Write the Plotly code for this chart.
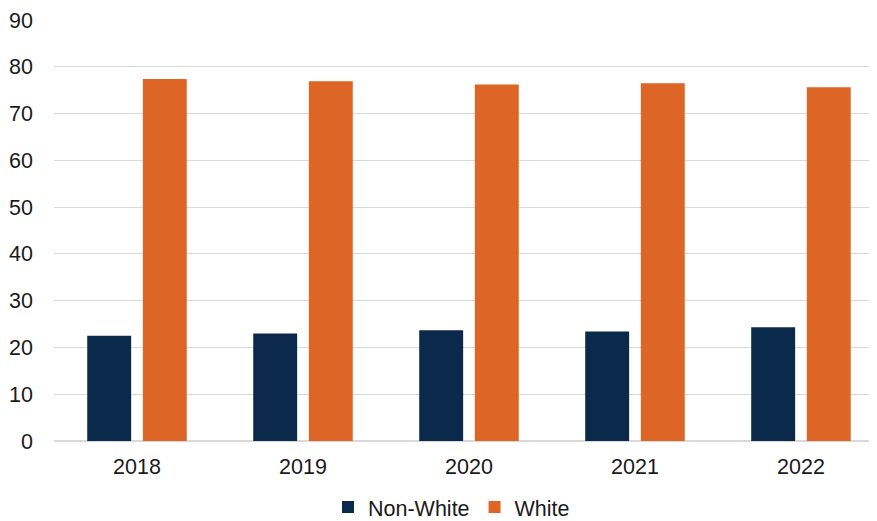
import plotly.graph_objects as go

years = ["2018", "2019", "2020", "2021", "2022"]
non_white = [22.5, 23.0, 23.7, 23.4, 24.3]
white = [77.4, 76.9, 76.2, 76.5, 75.6]

navy = "#0b2a4b"
orange = "#dd6627"
font_family = "Liberation Sans, Arial, sans-serif"

fig = go.Figure()
fig.add_trace(go.Bar(name="Non-White", x=years, y=non_white, marker_color=navy,
                     marker_line_width=0))
fig.add_trace(go.Bar(name="White", x=years, y=white, marker_color=orange,
                     marker_line_width=0))

# page body has an 8px default margin, so the figure is sized to fit within it
fig.update_layout(
    width=869, height=513,
    margin=dict(l=46, r=0, t=12, b=80),
    paper_bgcolor="white", plot_bgcolor="white",
    barmode="group", bargap=0.33, bargroupgap=0.21,
    font=dict(family=font_family, size=21.5, color="#1a1a1a"),
    showlegend=True,
    legend=dict(orientation="h", x=0.483, xanchor="center",
                yref="container", y=0.027, yanchor="middle",
                font=dict(size=21.5, color="#1a1a1a"), itemwidth=30,
                bgcolor="rgba(0,0,0,0)"),
)
fig.update_yaxes(range=[0, 90], dtick=10, showgrid=True, gridcolor="#d9d9d9",
                 gridwidth=1.3, zeroline=True, zerolinecolor="#d9d9d9", zerolinewidth=1.5,
                 showline=False, ticks="", ticklabelstandoff=20, automargin=False,
                 tickfont=dict(size=21.5, color="#1a1a1a"))
fig.update_xaxes(type="category", range=[-0.5, 4.458], showgrid=False, showline=False,
                 ticks="", ticklabelstandoff=10, automargin=False,
                 tickfont=dict(size=21.5, color="#1a1a1a"))

fig.write_html("out.html")
